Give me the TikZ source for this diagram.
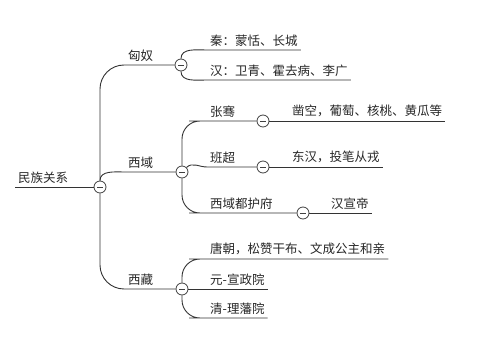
\documentclass[tikz,border=0pt]{standalone}
\usepackage{fontspec}
\setmainfont{Noto Sans CJK SC}
\begin{document}
\begin{tikzpicture}[x=1pt, y=1pt, font=\fontsize{12.5}{15}\selectfont]
	\tikzset{
		topic/.style={anchor=south west, inner xsep=3pt, inner ysep=3.5pt, text=black!85},
		fold/.style={circle, draw=black!75, fill=white, minimum size=12pt, inner sep=0pt, line width=0.8pt,
			path picture={\draw[black!75, line width=0.8pt] ([xshift=-3pt]path picture bounding box.center) -- ([xshift=3pt]path picture bounding box.center);}},
		link/.style={draw=black!80, line width=0.9pt}
	}
	\useasboundingbox (0,0) rectangle (499,-339);
	% root
	\node[topic] (root) at (15,-187) {民族关系};
	\node[fold] (c0) at (100,-187) {};
	% first level
	\node[topic] (xiongnu) at (125,-65) {匈奴};
	\node[fold] (c1) at (181,-65) {};
	\node[topic] (xiyu) at (125,-172) {西域};
	\node[fold] (c2) at (182,-172) {};
	\node[topic] (xizang) at (125,-289) {西藏};
	\node[fold] (c3) at (182,-289) {};
	% 匈奴
	\node[topic] (qin) at (207,-50) {秦：蒙恬、长城};
	\node[topic] (han) at (207,-80) {汉：卫青、霍去病、李广};
	% 西域
	\node[topic] (zhang) at (207,-121) {张骞};
	\node[fold] (c21) at (263,-121) {};
	\node[topic] (zhangres) at (289,-121) {凿空，葡萄、核桃、黄瓜等};
	\node[topic] (ban) at (207,-167) {班超};
	\node[fold] (c22) at (263,-167) {};
	\node[topic] (banres) at (289,-167) {东汉，投笔从戎};
	\node[topic] (duhu) at (207,-213) {西域都护府};
	\node[fold] (c23) at (303,-213) {};
	\node[topic] (duhures) at (328,-213) {汉宣帝};
	% 西藏
	\node[topic] (tang) at (207,-259) {唐朝，松赞干布、文成公主和亲};
	\node[topic] (yuan) at (207,-289) {元-宣政院};
	\node[topic] (qing) at (207,-318) {清-理藩院};

	% connectors
	\draw[link] (root.south west) -- (c0.west);
	\draw[link, rounded corners=24pt] (c0.north) |- (c1.west);
	\draw[link] (c0.north) to[out=90, in=180] (xiyu.south west) -- (c2.west);
	\draw[link, rounded corners=24pt] (c0.south) |- (c3.west);

	\draw[link] (c1.north) to[out=90, in=180] (qin.south west) -- (qin.south east);
	\draw[link] (c1.south) to[out=-90, in=180] (han.south west) -- (han.south east);

	\draw[link, rounded corners=18pt] (c2.north) |- (zhang.south west) -- (c21.west);
	\draw[link] (c21.east) -- (zhangres.south east);
	\draw[link] (c2.north east) to[out=45, in=180] (ban.south west) -- (c22.west);
	\draw[link] (c22.east) -- (banres.south east);
	\draw[link, rounded corners=18pt] (c2.south) |- (duhu.south west) -- (c23.west);
	\draw[link] (c23.east) -- (duhures.south east);

	\draw[link, rounded corners=18pt] (c3.north) |- (tang.south west) -- (tang.south east);
	\draw[link] (c3.east) -- (yuan.south east);
	\draw[link, rounded corners=18pt] (c3.south) |- (qing.south west) -- (qing.south east);
\end{tikzpicture}
\end{document}
